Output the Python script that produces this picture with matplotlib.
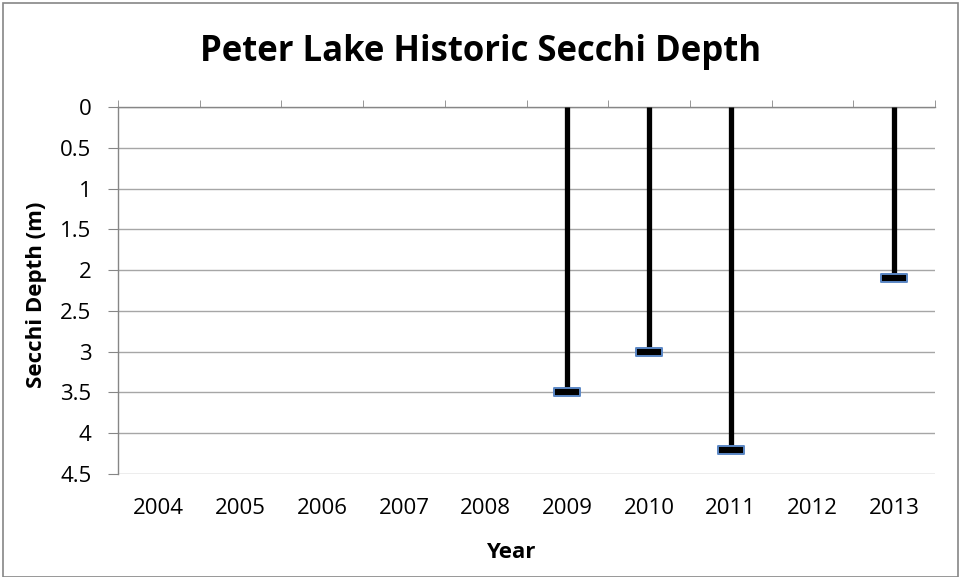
import numpy as np
import matplotlib
matplotlib.use("Agg")
import matplotlib.pyplot as plt
from matplotlib.path import Path
from matplotlib.patches import Rectangle

years = ["2004", "2005", "2006", "2007", "2008", "2009", "2010", "2011", "2012", "2013"]
depth = [np.nan, np.nan, np.nan, np.nan, np.nan, 3.5, 3.0, 4.2, np.nan, 2.1]
yticks = [0, 0.5, 1, 1.5, 2, 2.5, 3, 3.5, 4, 4.5]
ytick_labels = ["0", "0.5", "1", "1.5", "2", "2.5", "3", "3.5", "4", "4.5"]

plt.rcParams['font.family'] = ['Open Sans', 'DejaVu Sans']

fig = plt.figure(figsize=(9.61, 5.77), dpi=100)
ax = fig.add_axes([118/961, 1-474/577, (935-118)/961, (474-107)/577])

x = np.arange(len(years))
d = np.array(depth, dtype=float)
mask = ~np.isnan(d)
ax.vlines(x[mask], 0, d[mask], colors='black', linewidth=3.8, zorder=3)

rect = Path([(-1, -0.28), (1, -0.28), (1, 0.28), (-1, 0.28), (-1, -0.28)],
            [Path.MOVETO, Path.LINETO, Path.LINETO, Path.LINETO, Path.CLOSEPOLY])
ax.plot(x, d, linestyle='none', marker=rect, markersize=19,
        markerfacecolor='black', markeredgecolor='#5b87c5', markeredgewidth=1.4, zorder=4)

ax.set_xlim(-0.5, len(years) - 0.5)
ax.set_ylim(4.5, 0)
ax.set_yticks(yticks)
ax.set_yticklabels(ytick_labels, fontsize=16)
ax.set_xticks(x)
ax.set_xticklabels(years, fontsize=16)
ax.set_xticks(np.arange(-0.5, len(years)), minor=True)
ax.tick_params(axis='x', which='major', length=0, pad=17)
ax.tick_params(axis='x', which='minor', bottom=False, top=True, length=5, color='#868686', direction='out')
ax.tick_params(axis='y', which='major', length=7, color='#868686', direction='out', pad=12)

ax.grid(axis='y', color='#a6a6a6', linewidth=1.0)
ax.set_axisbelow(True)
for s in ['bottom', 'right']:
    ax.spines[s].set_visible(False)
for s in ['top', 'left']:
    ax.spines[s].set_color('#868686')
    ax.spines[s].set_linewidth(1.0)

fig.text(37/961, 1-295/577, "Secchi Depth (m)", fontsize=16, fontweight='bold',
         rotation=90, ha='center', va='center')
fig.text(511/961, 1-552/577, "Year", fontsize=16, fontweight='bold',
         ha='center', va='center')
fig.text(0.5, 1-52/577, "Peter Lake Historic Secchi Depth", fontsize=25, fontweight='bold',
         ha='center', va='center')

fig.patches.append(Rectangle((3/961, 0), 1-6/961, 1-3/577, transform=fig.transFigure,
                             fill=False, edgecolor='#868686', linewidth=1.2))

fig.savefig("out.png", dpi=100)
